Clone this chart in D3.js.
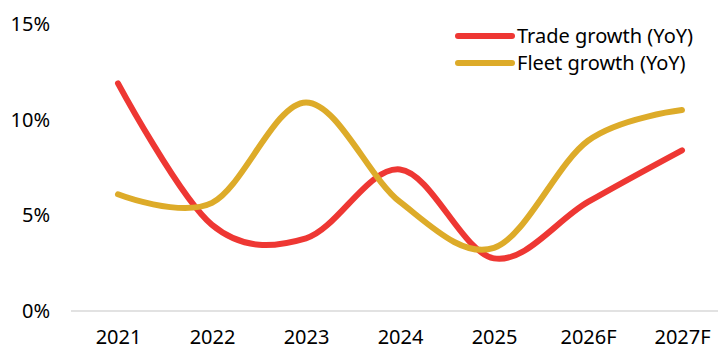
<!DOCTYPE html>
<html>
<head>
<meta charset="utf-8">
<script src="https://cdn.jsdelivr.net/npm/d3@7"></script>
<style>
  body { margin: 0; background: #fff; }
  svg { display: block; font-family: "Noto Sans", sans-serif; }
</style>
</head>
<body>
<div id="chart"></div>
<script>
const width = 718;
const height = 356;

const years = ["2021", "2022", "2023", "2024", "2025", "2026F", "2027F"];
const tradeGrowth = [11.9, 4.5, 3.8, 7.4, 2.75, 5.7, 8.4];
const fleetGrowth = [6.1, 5.65, 10.9, 5.7, 3.3, 8.9, 10.5];
const yTicks = [0, 5, 10, 15];
const seriesNames = ["Trade growth (YoY)", "Fleet growth (YoY)"];
const colors = ["#ee3733", "#ddab29"];

const svg = d3.select("#chart")
    .append("svg")
    .attr("width", width)
    .attr("height", height);

const x = d3.scalePoint()
    .domain(years)
    .range([118, 682]);

const y = d3.scaleLinear()
    .domain([0, 15])
    .range([311, 24]);

// baseline
svg.append("line")
    .attr("x1", 71)
    .attr("x2", width)
    .attr("y1", y(0))
    .attr("y2", y(0))
    .attr("stroke", "#d9d9d9")
    .attr("stroke-width", 1.5);

// y axis labels
const yAxis = svg.append("g")
    .attr("transform", "translate(50,0)")
    .call(d3.axisLeft(y).tickValues(yTicks).tickSize(0).tickPadding(0).tickFormat(d => d + "%"));
yAxis.select(".domain").remove();
yAxis.selectAll("text")
    .attr("font-family", "Noto Sans")
    .attr("font-size", 20)
    .attr("fill", "#000");

// x axis labels
const xAxis = svg.append("g")
    .attr("transform", `translate(0,${y(0)})`)
    .call(d3.axisBottom(x).tickSize(0).tickPadding(19));
xAxis.select(".domain").remove();
xAxis.selectAll("text")
    .attr("font-family", "Noto Sans")
    .attr("font-size", 20)
    .attr("fill", "#000");

const line = d3.line()
    .x((d, i) => x(years[i]))
    .y(d => y(d))
    .curve(d3.curveCatmullRom.alpha(0));

[tradeGrowth, fleetGrowth].forEach((values, k) => {
    svg.append("path")
        .datum(values)
        .attr("d", line)
        .attr("fill", "none")
        .attr("stroke", colors[k])
        .attr("stroke-width", 6)
        .attr("stroke-linecap", "round")
        .attr("stroke-linejoin", "round");
});

// legend
const legend = svg.selectAll(".legend")
    .data(seriesNames)
    .enter()
    .append("g")
    .attr("class", "legend")
    .attr("transform", (d, i) => `translate(458,${36 + i * 27})`);

legend.append("line")
    .attr("x1", 0)
    .attr("x2", 54)
    .attr("stroke", (d, i) => colors[i])
    .attr("stroke-width", 6)
    .attr("stroke-linecap", "round");

legend.append("text")
    .attr("x", 59)
    .attr("dy", "0.35em")
    .attr("font-size", 20)
    .attr("fill", "#000")
    .text(d => d);
</script>
</body>
</html>
